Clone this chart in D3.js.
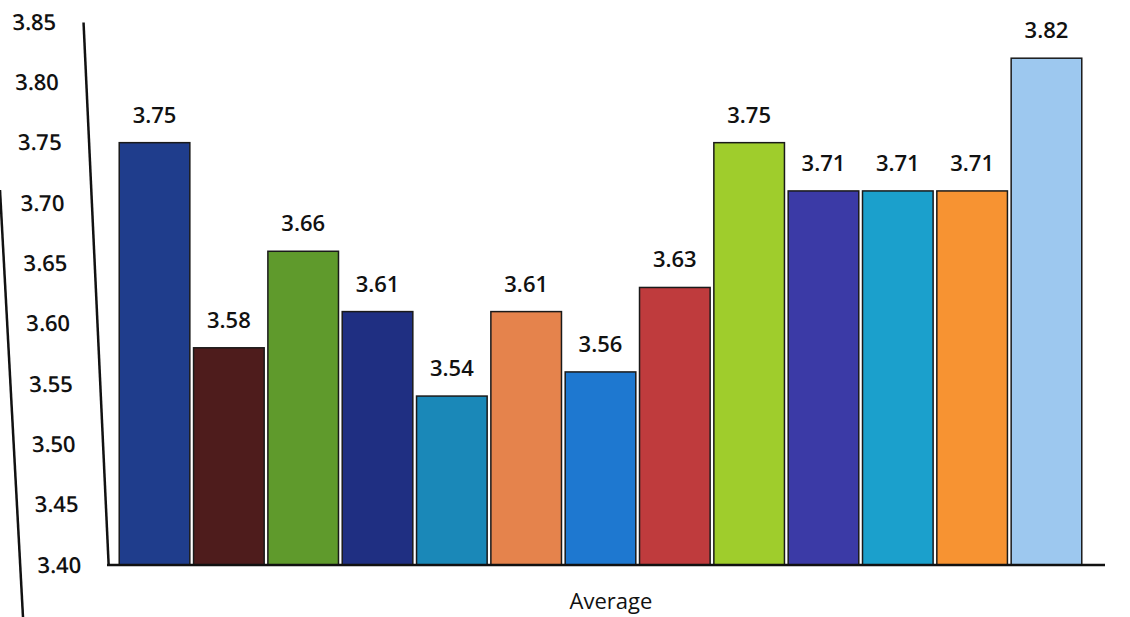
<!DOCTYPE html>
<html lang="en">
<head>
  <meta charset="utf-8">
  <title>Average</title>
  <script src="https://d3js.org/d3.v7.min.js"></script>
  <style>
    body { margin: 0; background: #fff; }
    text { font-family: "Open Sans", "Liberation Sans", sans-serif; fill: #111; }
  </style>
</head>
<body>
  <svg width="1130" height="617"></svg>
  <script>
    // values as printed above the bars
    const groups = ["G1", "G2", "G3", "G4", "G5", "G6", "G7", "G8", "G9", "G10", "G11", "G12", "G13"];
    const values = [3.75, 3.58, 3.66, 3.61, 3.54, 3.61, 3.56, 3.63, 3.75, 3.71, 3.71, 3.71, 3.82];
    const colors = ["#1f3d8c", "#4e1c1c", "#5f9a2c", "#1f2f82", "#1a88b8", "#e5834c", "#1e78d0",
                    "#bf3b3d", "#9fcd2c", "#3b3aa6", "#1ba0cc", "#f79332", "#9dc8ef"];
    const yTicks = [3.40, 3.45, 3.50, 3.55, 3.60, 3.65, 3.70, 3.75, 3.80, 3.85];
    const xTitle = "Average";

    const svg = d3.select("svg");

    const x = d3.scaleBand()
      .domain(groups)
      .range([117, 1084])
      .paddingInner(0.05)
      .paddingOuter(0.03);

    const y = d3.scaleLinear()
      .domain([3.40, 3.85])
      .range([565, 22]);

    // edge of the printed page at far left
    svg.append("line")
      .attr("x1", 0).attr("y1", 190)
      .attr("x2", 23).attr("y2", 617)
      .attr("stroke", "#111")
      .attr("stroke-width", 2.5);

    // y axis, skewed a little like the photographed print
    const yAxis = svg.append("g")
      .attr("transform", "translate(82,0) skewX(2.65)")
      .call(d3.axisLeft(y).tickValues(yTicks).tickSize(0).tickSizeOuter(0)
        .tickPadding(27).tickFormat(d3.format(".2f")));
    yAxis.select(".domain")
      .attr("stroke", "#111")
      .attr("stroke-width", 2.5);
    yAxis.selectAll("text")
      .style("font-size", "22px")
      .style("font-weight", 600)
      .attr("fill", "#111");

    // bars
    svg.append("g")
      .selectAll("rect")
      .data(values)
      .join("rect")
      .attr("x", (d, i) => x(groups[i]))
      .attr("y", d => y(d))
      .attr("width", x.bandwidth())
      .attr("height", d => y(3.40) - y(d))
      .attr("fill", (d, i) => colors[i])
      .attr("stroke", "#1a1a1a")
      .attr("stroke-width", 1.5);

    // value labels
    svg.append("g")
      .selectAll("text")
      .data(values)
      .join("text")
      .attr("x", (d, i) => x(groups[i]) + x.bandwidth() / 2)
      .attr("y", d => y(d) - 20)
      .attr("text-anchor", "middle")
      .style("font-size", "22px")
      .style("font-weight", 600)
      .text(d => d.toFixed(2));

    // x axis line
    svg.append("line")
      .attr("x1", 107).attr("x2", 1105)
      .attr("y1", y(3.40)).attr("y2", y(3.40))
      .attr("stroke", "#111")
      .attr("stroke-width", 2.5);

    svg.append("text")
      .attr("x", 611)
      .attr("y", 609)
      .attr("text-anchor", "middle")
      .style("font-size", "22px")
      .text(xTitle);
  </script>
</body>
</html>
